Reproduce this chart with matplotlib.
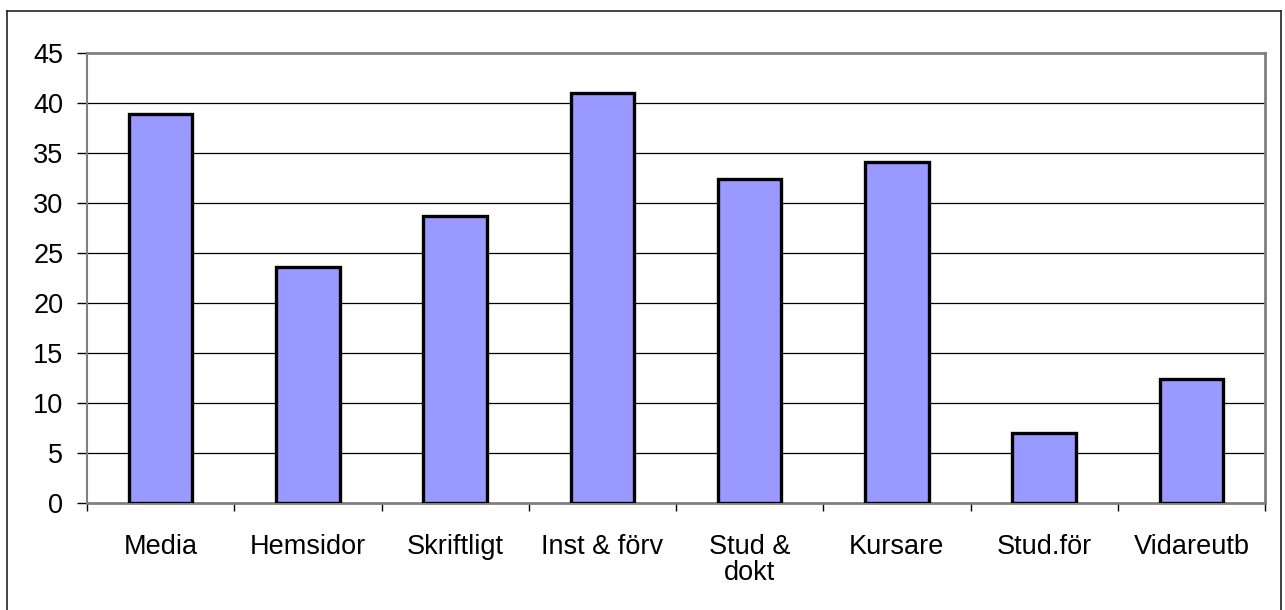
import matplotlib
matplotlib.use("Agg")
import matplotlib.pyplot as plt
from matplotlib.lines import Line2D

categories = ["Media", "Hemsidor", "Skriftligt", "Inst & förv", "Stud &\ndokt",
              "Kursare", "Stud.för", "Vidareutb"]
values = [38.9, 23.6, 28.7, 41.0, 32.4, 34.1, 7.0, 12.4]
y_ticks = [0, 5, 10, 15, 20, 25, 30, 35, 40, 45]

plt.rcParams["font.family"] = ["Liberation Sans", "DejaVu Sans"]

fig = plt.figure(figsize=(12.85, 6.1), dpi=100)
ax = fig.add_axes([87 / 1285, 107 / 610, (1265 - 87) / 1285, (503 - 53) / 610])

x = list(range(len(categories)))
ax.bar(x, values, width=0.43, color="#9999FF", edgecolor="black", linewidth=2.4, zorder=3)

ax.set_xlim(-0.5, len(categories) - 0.5)
ax.set_ylim(0, 45)
ax.set_yticks(y_ticks)
ax.set_yticklabels([str(v) for v in y_ticks], fontsize=19.5)
for v in y_ticks[1:-1]:
    ax.axhline(v, color="black", linewidth=0.9, zorder=1)

ax.set_xticks(x)
ax.set_xticklabels(categories, fontsize=19.5)
ax.set_xticks([i - 0.5 for i in range(len(categories) + 1)], minor=True)
ax.tick_params(axis="x", which="major", length=0, pad=22)
ax.tick_params(axis="x", which="minor", length=6, width=1, direction="out", color="black")
ax.tick_params(axis="y", length=7, width=1, direction="out", color="black", pad=10)
for lbl in ax.get_xticklabels():
    lbl.set_linespacing(1.0)
    lbl.set_verticalalignment("top")

for side in ["left", "right", "top", "bottom"]:
    ax.spines[side].set_color("#808080")
ax.spines["left"].set_linewidth(1.5)
ax.spines["right"].set_linewidth(2)
ax.spines["top"].set_linewidth(2)
ax.spines["bottom"].set_linewidth(2)

# outer chart-area border (runs off the bottom of the picture)
W, H = 1285, 610
fx = lambda px: px / W
fy = lambda py: 1 - py / H
fig.add_artist(Line2D([fx(7), fx(7)], [fy(11), 0], color="#222222", linewidth=1.2))
fig.add_artist(Line2D([fx(7), fx(1281)], [fy(11), fy(11)], color="#222222", linewidth=1.2))
fig.add_artist(Line2D([fx(1281), fx(1281)], [fy(11), 0], color="#222222", linewidth=1.2))

fig.savefig("out.png", dpi=100)
